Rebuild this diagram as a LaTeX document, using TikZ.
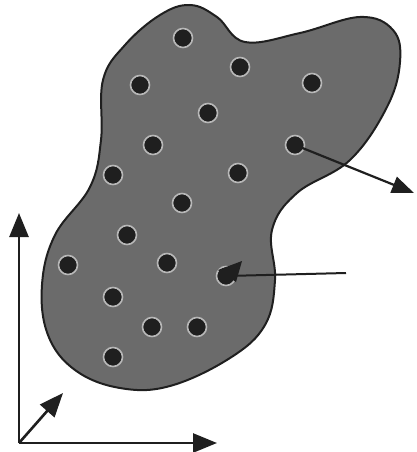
\documentclass[tikz,border=0pt]{standalone}
\usetikzlibrary{arrows.meta}
\definecolor{blobgray}{gray}{0.42}
\definecolor{halo}{gray}{0.72}
\definecolor{dotblack}{gray}{0.12}
\tikzset{
  dot/.style={circle,fill=dotblack,draw=halo,line width=1.6pt,minimum size=19pt,inner sep=0pt},
  bigarrow/.style={line width=2.2pt,draw=dotblack,-{Triangle[length=22pt,width=17pt]}},
  axisarrow/.style={line width=2.6pt,draw=dotblack,-{Triangle[length=24pt,width=19pt]}},
  plainline/.style={line width=2pt,draw=dotblack}
}
\begin{document}
\begin{tikzpicture}[x=1pt,y=-1pt]
\useasboundingbox (0,0) rectangle (416,452);
% blob
\draw[line width=2pt,draw=dotblack,fill=blobgray] plot[smooth cycle,tension=0.65] coordinates {
(190,5) (217,17) (245,42) (300,33) (360,17) (393,30) (400,62) (387,107) (350,160) (297,193)
(272,230) (275,280) (265,325) (230,358) (170,386) (120,388) (75,370) (48,335) (42,285)
(55,235) (90,187) (101,140) (103,80) (125,45) (160,15)};
% dots
\node[dot] (d1) at (183,38) {};
\node[dot] (d2) at (240,67) {};
\node[dot] (d3) at (140,85) {};
\node[dot] (d4) at (312,83) {};
\node[dot] (d5) at (208,113) {};
\node[dot] (d6) at (153,145) {};
\node[dot] (d7) at (295,145) {};
\node[dot] (d8) at (113,175) {};
\node[dot] (d9) at (238,173) {};
\node[dot] (d10) at (182,203) {};
\node[dot] (d11) at (127,235) {};
\node[dot] (d12) at (68,265) {};
\node[dot] (d13) at (167,263) {};
\node[dot] (d14) at (113,297) {};
\node[dot] (d15) at (152,327) {};
\node[dot] (d16) at (197,327) {};
\node[dot] (d17) at (113,357) {};
% heart-shaped particle
\node[dot] (heart) at (226,276) {};
\fill[dotblack] (218,270) -- (242,261) -- (236,282) -- cycle;
% arrow out of the blob
\coordinate (tip) at (414,193);
\draw[bigarrow] (d7.center) -- (tip);
% pointer line
\coordinate (lineend) at (346,273);
\draw[plainline] (heart.center) -- (lineend);
% axes
\coordinate (o) at (19,443);
\coordinate (ytip) at (19,213);
\coordinate (xtip) at (217,443);
\coordinate (ztip) at (63,393);
\draw[axisarrow] (o) -- (ytip);
\draw[axisarrow] (o) -- (xtip);
\draw[axisarrow] (o) -- (ztip);
\end{tikzpicture}
\end{document}
